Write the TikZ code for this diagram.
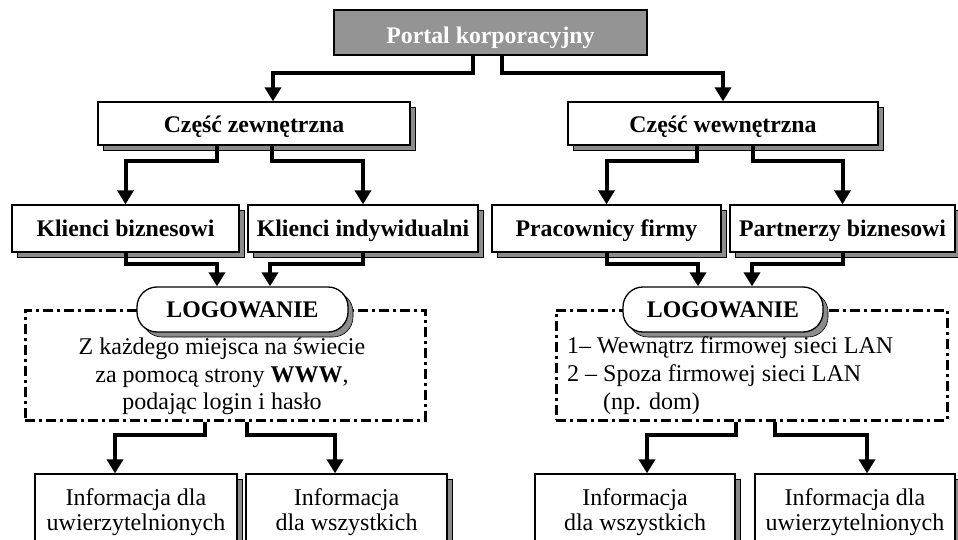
\documentclass[tikz,border=0pt]{standalone}
\usepackage{fontspec}
\setmainfont{Liberation Serif}
\usetikzlibrary{shadows,calc,arrows.meta}
\definecolor{shd}{gray}{0.55}
\definecolor{portalgray}{gray}{0.58}
\begin{document}
\begin{tikzpicture}[x=1pt,y=-1pt,
  shadowed/.style={copy shadow={shadow xshift=5pt, shadow yshift=-5pt, fill=shd, draw=black, line width=0.6pt}},
  bx/.style={draw=black, line width=1.3pt, fill=white, inner sep=0pt, shadowed},
  bf/.style={font=\fontsize{23.8}{26}\selectfont\bfseries, text height=20pt, text depth=4pt},
  rf/.style={font=\fontsize{24}{27.5}\selectfont},
  rfb/.style={font=\fontsize{24}{25}\selectfont, text depth=0pt},
  pill/.style={bx, rounded corners=20pt},
  frame/.style={draw=black, line width=3pt, dash pattern=on 10pt off 4pt on 3pt off 4pt, inner sep=0pt},
  arr/.style={line width=4pt, line join=miter, -{Triangle[length=14pt,width=16pt]}},
]
\useasboundingbox (0,0) rectangle (958,540);
\clip (0,0) rectangle (958,540);

% top
\node[draw=black, line width=1.3pt, fill=portalgray, text=white, bf, text height=23pt, text depth=1pt, inner sep=0pt,
      minimum width=313pt, minimum height=45pt] (portal) at (490.5,32.5) {Portal korporacyjny};

\node[bx, bf, text height=21pt, text depth=3pt, minimum width=312pt, minimum height=43pt] (cz) at (254,123.5) {Część zewnętrzna};
\node[bx, bf, text height=21pt, text depth=3pt, minimum width=310pt, minimum height=43pt] (cw) at (723,123.5) {Część wewnętrzna};

\node[bx, bf, minimum width=227pt, minimum height=47pt] (kb) at (125.5,228.5) {Klienci biznesowi};
\node[bx, bf, minimum width=230pt, minimum height=47pt] (ki) at (363,228.5) {Klienci indywidualni};
\node[bx, bf, minimum width=229pt, minimum height=47pt] (pf) at (606.5,228.5) {Pracownicy firmy};
\node[bx, bf, minimum width=225pt, minimum height=47pt] (pb) at (842.5,228.5) {Partnerzy biznesowi};

% login frames
\node[frame, minimum width=400pt, minimum height=110pt] (f1) at (225,365) {};
\node[frame, minimum width=391pt, minimum height=110pt] (f2) at (751.5,365) {};

\node[pill, bf, minimum width=211pt, minimum height=45pt] (log1) at (242.5,309.5) {LOGOWANIE};
\node[pill, bf, minimum width=200pt, minimum height=45pt] (log2) at (723,309.5) {LOGOWANIE};

\node[rf, align=center, inner sep=0pt] (t1) at (222,376.5)
  {Z każdego miejsca na świecie\\za pomocą strony \textbf{WWW},\\podając login i hasło};
\node[rf, font=\fontsize{24}{28}\selectfont, align=left, inner sep=0pt, anchor=west] (t2) at (567,376)
  {1– Wewnątrz firmowej sieci LAN\\2 – Spoza firmowej sieci LAN\\\phantom{2 – }(np. dom)};

% bottom boxes
\node[bx, rfb, align=center, minimum width=202pt, minimum height=72pt] (i1) at (136,510) {Informacja dla\\uwierzytelnionych};
\node[bx, rfb, align=center, minimum width=201pt, minimum height=72pt] (i2) at (346.5,510) {Informacja\\dla wszystkich};
\node[bx, rfb, align=center, minimum width=200pt, minimum height=72pt] (i3) at (635,510) {Informacja\\dla wszystkich};
\node[bx, rfb, align=center, minimum width=200pt, minimum height=72pt] (i4) at (855,510) {Informacja dla\\uwierzytelnionych};

% connectors
\draw[arr] ([xshift=-17.5pt]portal.south) -- ++(0,17) -| ([xshift=19pt]cz.north);
\draw[arr] ([xshift=11.5pt]portal.south) -- ++(0,17) -| (cw.north);

\draw[arr] ([xshift=-37pt]cz.south) -- ++(0,15) -| (kb.north);
\draw[arr] ([xshift=18pt]cz.south) -- ++(0,15) -| (ki.north);
\draw[arr] ([xshift=-26pt]cw.south) -- ++(0,15) -| (pf.north);
\draw[arr] ([xshift=30pt]cw.south) -- ++(0,15) -| (pb.north);

\draw[arr] (kb.south) -- ++(0,11) -| ([xshift=-25.5pt]log1.north);
\draw[arr] (ki.south) -- ++(0,11) -| ([xshift=27.5pt]log1.north);
\draw[arr] (pf.south) -- ++(0,11) -| ([xshift=-25pt]log2.north);
\draw[arr] (pb.south) -- ++(0,11) -| ([xshift=29pt]log2.north);

\draw[arr] ([xshift=-20pt]f1.south) -- ++(0,13) -| ([xshift=-21pt]i1.north);
\draw[arr] ([xshift=22pt]f1.south) -- ++(0,13) -| ([xshift=-11.5pt]i2.north);
\draw[arr] ([xshift=-15.5pt]f2.south) -- ++(0,13) -| ([xshift=12pt]i3.north);
\draw[arr] ([xshift=23.5pt]f2.south) -- ++(0,13) -| ([xshift=12pt]i4.north);
\end{tikzpicture}
\end{document}
